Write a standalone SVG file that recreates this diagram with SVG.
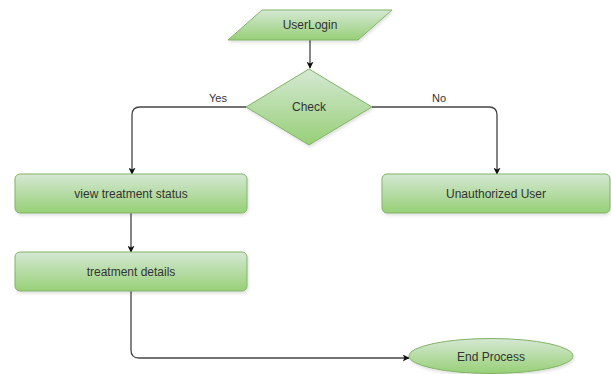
<svg xmlns="http://www.w3.org/2000/svg" width="611" height="374" viewBox="0 0 611 374">
<defs>
<linearGradient id="g" x1="0" y1="0" x2="0" y2="1">
<stop offset="0" stop-color="#d5e8d4"/>
<stop offset="1" stop-color="#97d077"/>
</linearGradient>
<marker id="arr" viewBox="0 0 10 10" refX="9" refY="5" markerWidth="7" markerHeight="7" markerUnits="userSpaceOnUse" orient="auto">
<path d="M0,0 L10,5 L0,10 L2.5,5 Z" fill="#111"/>
</marker>
<filter id="sh" x="-10%" y="-10%" width="130%" height="140%">
<feDropShadow dx="1" dy="2" stdDeviation="1.5" flood-color="#000" flood-opacity="0.12"/>
</filter>
</defs>
<style>
.n{fill:url(#g);stroke:#82b366;stroke-width:1;filter:url(#sh)}
.t{font-family:"Liberation Sans",Arial,sans-serif;font-size:12px;fill:#333;text-anchor:middle;dominant-baseline:central}
.c{fill:none;stroke:#444;stroke-width:1.3;marker-end:url(#arr)}
.l{font-family:"Liberation Sans",Arial,sans-serif;font-size:11px;fill:#333;text-anchor:middle}
</style>
<rect width="611" height="374" fill="#fff"/>
<g id="connectors">
<path class="c" d="M310,40 L310,68"/>
<path class="c" d="M246,107 L140,107 Q132,107 132,115 L132,174"/>
<path class="c" d="M372,107 L489,107 Q497,107 497,115 L497,174"/>
<path class="c" d="M131,213 L131,252"/>
<path class="c" d="M131,291 L131,350 Q131,358 139,358 L409,358"/>
<text class="l" x="218" y="102">Yes</text>
<text class="l" x="439" y="102">No</text>
</g>
<g id="userlogin">
<polygon class="n" points="262,10 392,10 358,40 228,40"/>
<text class="t" x="310" y="25">UserLogin</text>
</g>
<g id="check">
<polygon class="n" points="309,69 372,107 309,145 246,107"/>
<text class="t" x="309" y="107">Check</text>
</g>
<g id="view-treatment-status">
<rect class="n" x="15" y="174" width="232" height="39" rx="5"/>
<text class="t" x="131" y="194">view treatment status</text>
</g>
<g id="unauthorized-user">
<rect class="n" x="382" y="174" width="228" height="39" rx="5"/>
<text class="t" x="496" y="194">Unauthorized User</text>
</g>
<g id="treatment-details">
<rect class="n" x="15" y="252" width="232" height="39" rx="5"/>
<text class="t" x="131" y="272">treatment details</text>
</g>
<g id="end-process">
<ellipse class="n" cx="491" cy="356" rx="82" ry="17.5"/>
<text class="t" x="491" y="357">End Process</text>
</g>
</svg>
